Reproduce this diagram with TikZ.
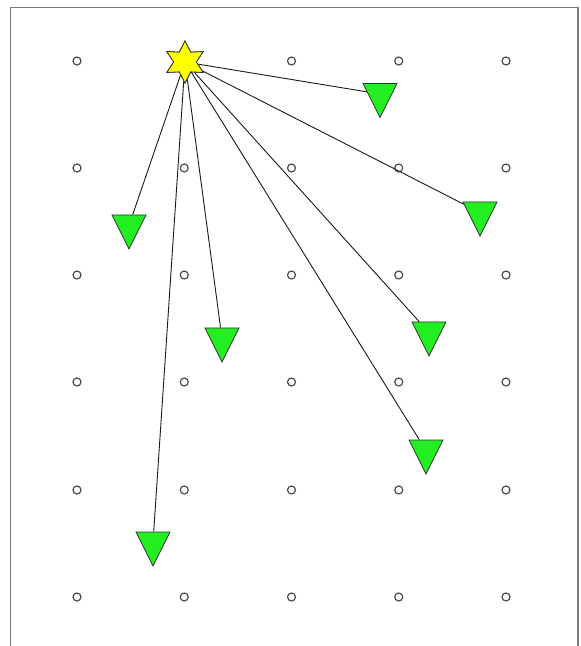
\documentclass[tikz,border=0pt]{standalone}
\usetikzlibrary{shapes.geometric}
\definecolor{tgreen}{HTML}{22EE22}
\definecolor{tyellow}{HTML}{FFFF00}
\definecolor{frame}{HTML}{7A7A7A}
\tikzset{
  gridpt/.style={circle, draw=black!70, fill=white, line width=1.2pt, minimum size=8pt, inner sep=0pt},
  target/.style={isosceles triangle, isosceles triangle stretches, rotate=-90,
    draw=black!80, fill=tgreen, line width=0.8pt, inner sep=0pt,
    minimum width=34pt, minimum height=34pt},
  source/.style={star, star points=6, star point ratio=1.85, draw=black!80, fill=tyellow,
    line width=0.8pt, inner sep=0pt, minimum size=42pt},
  link/.style={draw=black!90, line width=0.9pt}
}
\begin{document}
\begin{tikzpicture}[x=1pt, y=-1pt]
\useasboundingbox (0,0) rectangle (581,646);
\draw[frame, line width=1.4pt] (10.5,646) -- (10.5,7.5) -- (578,7.5) -- (578,646);
% grid
\foreach \i/\x in {0/77,1/184.25,2/291.5,3/398.75,4/506}{
  \foreach \j/\y in {0/61,1/168,2/275,3/382,4/490,5/597}{
    \ifnum\i=1 \ifnum\j=0 \else
      \node[gridpt] (g\i\j) at (\x,\y) {};
    \fi\else
      \node[gridpt] (g\i\j) at (\x,\y) {};
    \fi
  }
}
\node[source] (s) at (185,62) {};
\node[target] (t1) at (380,94) {};
\node[target] (t2) at (480,212.5) {};
\node[target] (t3) at (129,225.5) {};
\node[target] (t4) at (222,338.5) {};
\node[target] (t5) at (429,332.5) {};
\node[target] (t6) at (426,450.5) {};
\node[target] (t7) at (153,542.5) {};
\foreach \t in {t1,t2,t3,t4,t5,t6,t7}{
  \draw[link] (s) -- (\t);
}
\node[source] at (s) {};
\end{tikzpicture}
\end{document}
